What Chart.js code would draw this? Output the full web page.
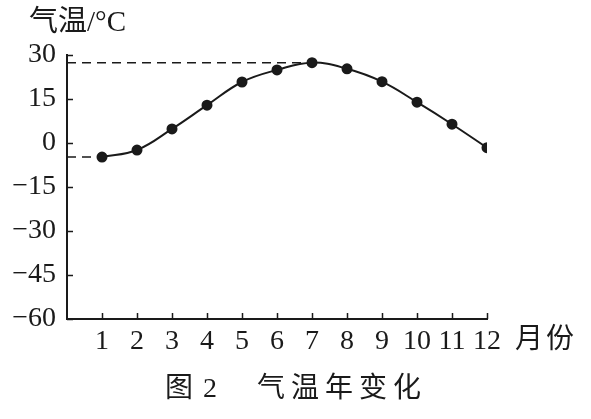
<!DOCTYPE html>
<html>
<head>
<meta charset="utf-8">
<script src="https://cdn.jsdelivr.net/npm/chart.js@4/dist/chart.umd.min.js"></script>
<style>
  html, body { margin: 0; padding: 0; background: #fff; }
  #wrap { width: 591px; height: 419px; }
</style>
</head>
<body>
<div id="wrap"><canvas id="chart"></canvas></div>
<script>
const months = [1, 2, 3, 4, 5, 6, 7, 8, 9, 10, 11, 12];
const temps = [-4.8, -2.4, 4.8, 12.9, 20.8, 24.9, 27.4, 25.3, 20.9, 13.9, 6.4, -1.6];
const yTicks = [30, 15, 0, -15, -30, -45, -60];

const serif = '"Liberation Serif", "Noto Sans CJK SC", serif';
const ink = "#1a1a1a";

// dashed guide lines: max temperature and January temperature back to the axis
const maxIdx = temps.indexOf(Math.max(...temps));
const maxGuide = [{ x: 0, y: temps[maxIdx] }, { x: months[maxIdx], y: temps[maxIdx] }];
const janGuide = [{ x: 0, y: temps[0] }, { x: months[0], y: temps[0] }];

// small inward tick marks, placed from the scales
const innerTicks = {
  id: "innerTicks",
  afterDatasetsDraw(chart) {
    const { ctx, scales } = chart;
    const x = scales.x, y = scales.y;
    ctx.save();
    ctx.strokeStyle = ink;
    ctx.lineWidth = 1.5;
    ctx.beginPath();
    months.forEach((m) => {
      const px = Math.round(x.getPixelForValue(m)) + 0.5;
      ctx.moveTo(px, y.bottom);
      ctx.lineTo(px, y.bottom - 6);
    });
    yTicks.forEach((v) => {
      const py = Math.round(y.getPixelForValue(v)) + 0.5;
      ctx.moveTo(x.left, py);
      ctx.lineTo(x.left + 6, py);
    });
    ctx.stroke();
    ctx.restore();
  },
};

const textPlugin = {
  id: "texts",
  afterDraw(chart) {
    const { ctx, chartArea } = chart;
    ctx.save();
    ctx.fillStyle = ink;
    ctx.textBaseline = "middle";
    ctx.textAlign = "left";
    ctx.font = "29px " + serif;
    ctx.fillText("气温/°C", 29, 23);
    ctx.font = "28px " + serif;
    ctx.letterSpacing = "3px";
    ctx.fillText("月份", chartArea.right + 28, 341);
    ctx.letterSpacing = "0px";
    ctx.fillText("图", 165, 390);
    ctx.fillText("2", 203, 390);
    ctx.letterSpacing = "6px";
    ctx.fillText("气温年变化", 257, 390);
    ctx.restore();
  },
};

new Chart(document.getElementById("chart"), {
  type: "line",
  data: {
    datasets: [
      {
        data: months.map((m, i) => ({ x: m, y: temps[i] })),
        borderColor: ink,
        backgroundColor: ink,
        borderWidth: 2,
        pointRadius: 4.5,
        pointBackgroundColor: ink,
        tension: 0.4,
        order: 0,
      },
      {
        data: maxGuide,
        borderColor: ink,
        borderWidth: 1.5,
        borderDash: [9, 6],
        pointRadius: 0,
        order: 1,
      },
      {
        data: janGuide,
        borderColor: ink,
        borderWidth: 1.5,
        borderDash: [9, 6],
        pointRadius: 0,
        order: 1,
      },
    ],
  },
  options: {
    responsive: true,
    maintainAspectRatio: false,
    animation: false,
    layout: { padding: { left: 0, top: 55, right: 104, bottom: 40 } },
    plugins: {
      legend: { display: false },
      tooltip: { enabled: false },
    },
    scales: {
      x: {
        type: "linear",
        min: 0,
        max: 12,
        afterBuildTicks: (scale) => {
          scale.ticks = [0, ...months].map((v) => ({ value: v }));
        },
        afterFit: (scale) => { scale.height = 60; },
        border: { display: true, color: ink, width: 2 },
        grid: { display: false },
        ticks: {
          autoSkip: false,
          maxRotation: 0,
          padding: -2,
          color: ink,
          font: { family: serif, size: 28 },
          callback: (v) => (v === 0 ? "" : String(v)),
        },
      },
      y: {
        min: -60,
        max: 30,
        afterBuildTicks: (scale) => {
          scale.ticks = yTicks.map((v) => ({ value: v }));
        },
        afterFit: (scale) => { scale.width = 67; },
        border: { display: true, color: ink, width: 2 },
        grid: { display: false },
        ticks: {
          padding: 3,
          color: ink,
          font: { family: serif, size: 28 },
          callback: (v) => (v < 0 ? "\u2212" + Math.abs(v) : String(v)),
        },
      },
    },
  },
  plugins: [innerTicks, textPlugin],
});
</script>
</body>
</html>
